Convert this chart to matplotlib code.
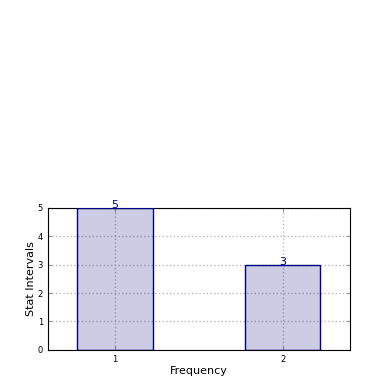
import numpy as np
import matplotlib.pyplot as plt

# bar data
positions = [1, 2]
values = [5, 3]
tick_labels = ['1', '2']

fig = plt.figure(figsize=(3.9, 3.9), dpi=100)
ax = fig.add_axes([0.123, 0.103, 0.774, 0.364])

ax.bar(positions, values, width=0.45, color='navy', alpha=0.2, zorder=2)
ax.bar(positions, values, width=0.45, fill=False, edgecolor='navy', linewidth=1, zorder=3)

for x, v in zip(positions, values):
    ax.text(x, v, str(v), ha='center', va='baseline', color='navy', fontsize=8, zorder=4)

ax.set_xlim(0.6, 2.4)
ax.set_ylim(0, 5)
ax.set_xticks(positions)
ax.set_xticklabels(tick_labels)
ax.set_yticks(range(0, 6))
ax.tick_params(direction='in', labelsize=6, length=3, top=True, right=True, color='#999999')
ax.grid(True, linestyle=':', color='#bbbbbb', linewidth=1, zorder=1)
ax.set_axisbelow(True)
ax.set_xlabel('Frequency', fontsize=8, labelpad=2)
ax.set_ylabel('Stat Intervals', fontsize=8, labelpad=1)

fig.savefig('out.png', dpi=100)
